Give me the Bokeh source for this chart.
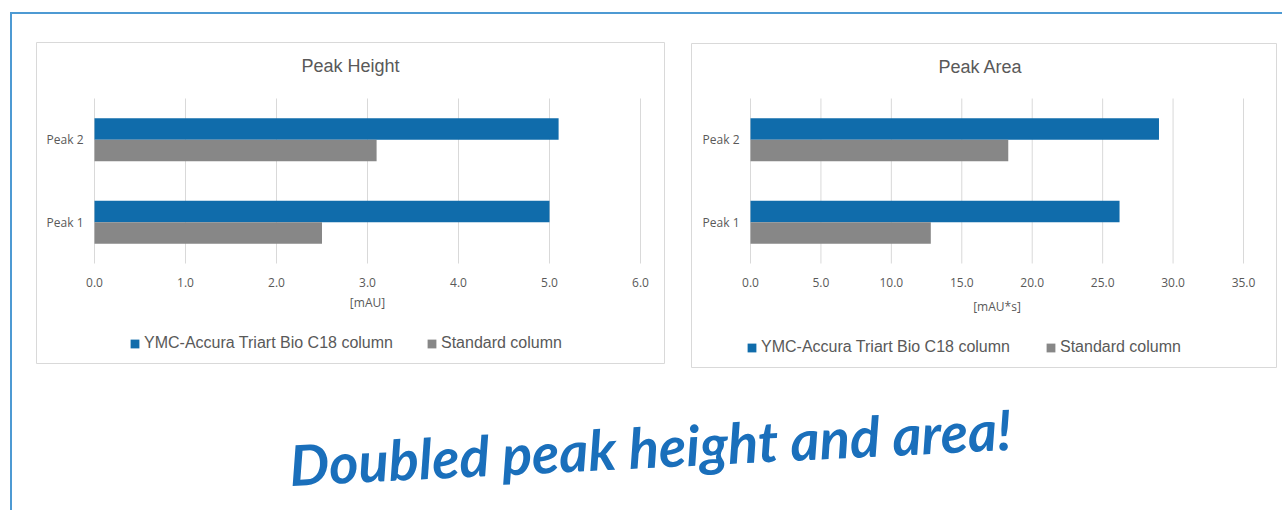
from bokeh.plotting import figure
from bokeh.models import Range1d, Legend, LegendItem, Label, ColumnDataSource
from bokeh.core.properties import value
from bokeh.transform import dodge
from bokeh.layouts import column
from bokeh.embed import file_html
from bokeh.resources import INLINE

# ---------------- data ----------------
peaks = ["Peak 1", "Peak 2"]
series_names = ["YMC-Accura Triart Bio C18 column", "Standard column"]
height_ymc = [5.0, 5.1]
height_std = [2.5, 3.1]
area_ymc = [26.2, 29.0]
area_std = [12.8, 18.3]
height_ticks = [0, 1, 2, 3, 4, 5, 6]
area_ticks = [0, 5, 10, 15, 20, 25, 30, 35]
headline = "Doubled peak height and area!"

# ---------------- styles / layout constants ----------------
BLUE = "#106cab"
GRAY = "#878787"
TEXT = "#595959"
GRID = "#d9d9d9"
FRAME_BLUE = "#4d9ad3"
SANS = "Liberation Sans"
TICKFONT = "Open Sans"

FIG_W, FIG_H = 1270, 496          # canvas, placed at page (12, 14)
OX, OY_BOTTOM = 12, 510           # page x of canvas left, page y of canvas bottom


def x_range_for(px0, px1, v0, v1):
    fx0, fx1 = px0 - OX, px1 - OX
    k = (fx1 - fx0) / (v1 - v0)
    start = v0 - fx0 / k
    return Range1d(start, start + FIG_W / k)


def y_range_for(py_top, py_bottom, v_bottom, v_top):
    fb, ft_ = OY_BOTTOM - py_bottom, OY_BOTTOM - py_top
    k = (ft_ - fb) / (v_top - v_bottom)
    start = v_bottom - fb / k
    return Range1d(start, start + FIG_H / k)


p = figure(width=FIG_W, height=FIG_H, x_range=Range1d(0, FIG_W), y_range=Range1d(0, FIG_H),
           output_backend="svg", toolbar_location=None, min_border=0,
           x_axis_type=None, y_axis_type=None)
p.grid.visible = False
p.outline_line_color = None

n = len(peaks)
p.extra_y_ranges = {"cat": y_range_for(98, 263, 0, n)}
p.extra_x_ranges = {"h": x_range_for(94, 640, 0, height_ticks[-1]),
                    "a": x_range_for(750, 1243, 0, area_ticks[-1])}

# chart boxes (layout frames, in canvas pixels)
boxes = dict(left=[36 - OX, 691 - OX], right=[664 - OX, 1276 - OX],
             bottom=[OY_BOTTOM - 363, OY_BOTTOM - 367], top=[OY_BOTTOM - 42, OY_BOTTOM - 43])
p.quad(left="left", right="right", bottom="bottom", top="top", source=ColumnDataSource(boxes),
       fill_color=None, line_color=GRID, line_width=1)


def draw_chart(xname, title, title_xy, unit, unit_offset, ymc, std, ticks, legend_loc, spacing):
    centers = [i + 0.5 for i in range(n)]
    # gridlines
    p.segment(x0=ticks, x1=ticks, y0=[0] * len(ticks), y1=[n] * len(ticks),
              x_range_name=xname, y_range_name="cat", line_color=GRID, line_width=1)
    src = ColumnDataSource(dict(pos=centers, ymc=ymc, std=std))
    r1 = p.hbar(y=dodge("pos", 0.13), left=0, right="ymc", height=0.26, source=src,
                x_range_name=xname, y_range_name="cat", fill_color=BLUE, line_color=None)
    r2 = p.hbar(y=dodge("pos", -0.13), left=0, right="std", height=0.26, source=src,
                x_range_name=xname, y_range_name="cat", fill_color=GRAY, line_color=None)
    # x tick labels
    p.text(x=ticks, y=[0] * len(ticks), text=[f"{t:.1f}" for t in ticks],
           x_range_name=xname, y_range_name="cat", y_offset=19,
           text_align="center", text_baseline="middle", text_font=value(TICKFONT),
           text_font_size="12px", text_color=TEXT)
    # category labels
    p.text(x=[0] * n, y=centers, text=peaks, x_range_name=xname, y_range_name="cat",
           x_offset=-11, text_align="right", text_baseline="middle",
           text_font=value(TICKFONT), text_font_size="12px", text_color=TEXT)
    # axis label
    p.text(x=[ticks[-1] / 2], y=[0], text=[unit], x_range_name=xname, y_range_name="cat",
           y_offset=unit_offset, text_align="center", text_baseline="middle",
           text_font=value(TICKFONT), text_font_size="12px", text_color=TEXT)
    # title
    p.add_layout(Label(x=title_xy[0] - OX, y=OY_BOTTOM - title_xy[1], text=title,
                       text_align="center", text_baseline="middle", text_font=SANS,
                       text_font_size="18px", text_color=TEXT))
    # legend
    lg = Legend(items=[LegendItem(label=series_names[0], renderers=[r1]),
                       LegendItem(label=series_names[1], renderers=[r2])],
                orientation="horizontal", location=legend_loc,
                glyph_width=11, glyph_height=11, label_standoff=4, label_height=20,
                spacing=spacing, padding=0, margin=0,
                label_text_font=SANS, label_text_font_size="16px",
                label_text_color=TEXT, border_line_color=None, background_fill_alpha=0)
    p.add_layout(lg)


draw_chart("h", "Peak Height", (350, 65), "[mAU]", 39, height_ymc, height_std,
           height_ticks, (129 - OX, OY_BOTTOM - 353), 33)
draw_chart("a", "Peak Area", (980, 66), "[mAU*s]", 43, area_ymc, area_std,
           area_ticks, (746 - OX, OY_BOTTOM - 357), 35)

p.add_layout(Label(x=650 - OX, y=OY_BOTTOM - 446, text=headline, text_font="Lato",
                   text_font_size="56px", text_font_style="bold italic",
                   text_color="#1a6fbb", text_align="center", text_baseline="middle",
                   angle=0.05))

root = column(p, styles={"border-top": "2px solid " + FRAME_BLUE,
                         "border-left": "2px solid " + FRAME_BLUE,
                         "margin-left": "10px", "margin-top": "12px"})

open("out.html", "w").write(file_html(root, INLINE))
